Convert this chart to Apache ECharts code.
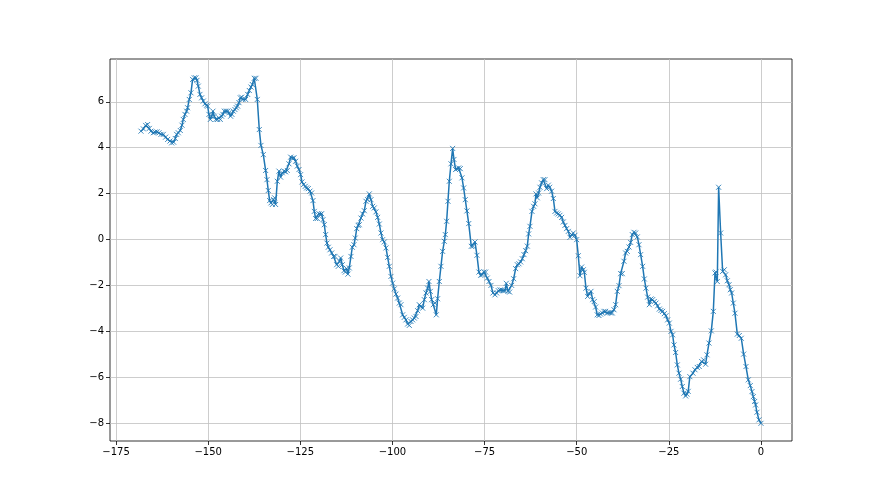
<!DOCTYPE html>
<html>
<head>
<meta charset="utf-8">
<script src="https://cdn.jsdelivr.net/npm/echarts@6/dist/echarts.min.js"></script>
<style>
html,body{margin:0;padding:0;background:#fff;}
#chart{width:880px;height:495px;}
</style>
</head>
<body>
<div id="chart"></div>
<script>
var xTicks = [-175, -150, -125, -100, -75, -50, -25, 0];
var yTicks = [-8, -6, -4, -2, 0, 2, 4, 6];

var xs = [
-168.25,-167.6,-166.98,-166.44,-165.99,-165.54,-164.9,-164.45,-163.9,-163.36,-162.82,-162.19,-161.56,-161.01,-160.38,-159.93,-159.38,-158.93,-158.57,-158.12,
-157.58,-157.12,-156.76,-156.31,-155.86,-155.59,-155.14,-154.68,-154.23,-153.78,-153.33,-153.05,-152.69,-152.24,-151.79,-151.33,-150.88,-150.43,-150.16,-149.8,
-149.43,-149.07,-148.71,-148.35,-147.9,-147.44,-147.08,-146.72,-146.36,-146.0,-145.63,-145.18,-144.73,-144.37,-143.92,-143.56,-143.19,-142.74,-142.38,-142.02,
-141.66,-141.29,-140.93,-140.57,
-139.85,-139.3,-138.85,-138.4,-138.04,-137.5,-137.04,-136.68,-136.14,-135.69,-135.05,-134.42,-134.06,-133.7,-133.33,-132.97,-132.61,-132.25,-131.98,-131.71,
-131.25,-130.8,-130.35,-129.9,-129.44,-128.99,-128.54,-128.09,-127.63,-127.18,-126.73,-126.28,-125.83,-125.37,-124.92,-124.56,-124.11,-123.66,-123.3,-122.84,
-122.39,-121.94,-121.57,-121.21,-120.85,-120.4,-119.95,-119.58,-119.22,-118.86,-118.5,-118.14,-117.77,-117.41,-116.96,-116.5,-115.96,-115.6,-115.15,-114.7,
-114.34,-114.06,-113.61,-113.16,-112.8,-112.43,-112.08,-111.72,-111.26,-110.9,-110.45,-110.09,-109.7,-109.3,
-109.0,-108.55,-108.1,-107.64,-107.19,-106.74,-106.29,-105.83,-105.38,-104.93,-104.48,-104.02,-103.57,-103.12,-102.67,-102.22,-101.76,-101.31,-100.86,-100.41,
-99.95,-99.5,-99.05,-98.6,-98.15,-97.69,-97.24,-96.79,-96.34,-95.88,-95.43,-94.98,-94.53,-94.08,-93.62,-93.17,-92.72,-92.27,-91.81,-91.36,
-90.91,-90.46,-90.1,-89.73,-89.37,-88.92,-88.47,-88.11,-87.75,-87.29,-86.84,-86.39,-85.93,-85.66,-85.3,-84.94,-84.58,-84.12,-83.67,-83.31,
-82.86,-82.5,-82.04,-81.59,-81.14,-80.69,-80.24,-79.8,-79.3,
-78.61,-78.15,-77.61,-77.07,-76.53,-76.07,-75.62,-75.17,-74.72,-74.26,-73.81,-73.27,-72.73,-72.18,-71.73,-71.28,-70.83,-70.37,-69.92,-69.47,
-69.11,-68.66,-68.2,-67.66,-67.12,-66.57,-66.12,-65.67,-65.22,-64.77,-64.31,-63.86,-63.41,-63.05,-62.69,-62.14,-61.69,-61.33,-61.06,-60.7,
-60.33,-59.97,-59.52,-59.07,-58.62,-58.16,-57.71,-57.35,-56.81,-56.35,-55.9,-55.45,-55.0,-54.55,-54.09,-53.64,-53.19,-52.74,-52.28,-51.83,
-51.38,-50.93,-50.47,
-50.02,-49.57,-49.12,-48.67,-48.21,-47.94,-47.49,-47.04,-46.59,-46.13,-45.68,-45.23,-44.87,-44.42,-43.96,-43.51,-43.06,-42.61,-42.16,-41.7,
-41.25,-40.8,-40.35,-39.89,-39.44,-38.99,-38.53,-38.08,-37.63,-37.18,-36.73,-36.27,-35.82,-35.37,-34.92,-34.46,-34.01,-33.56,-33.11,-32.65,
-32.11,-31.66,-31.21,-30.75,-30.3,-29.85,-29.4,-28.95,-28.49,-28.04,-27.59,-27.14,-26.69,-26.23,-25.78,-25.33,-24.88,-24.42,-23.97,-23.61,
-23.16,-22.71,-22.25,-21.8,-21.35,-20.9,-20.44,-20.1,-19.75,-19.3,
-18.45,-17.91,-17.28,-16.74,-16.1,-15.56,-15.02,-14.65,-14.11,-13.48,-12.93,-12.48,-12.21,-11.85,-11.49,-10.94,-10.4,-9.95,-9.59,-9.13,
-8.68,-8.32,-7.96,-7.51,-7.06,-6.42,-5.88,-5.34,-4.7,-4.07,-3.44,-2.9,-2.44,-2.08,-1.72,-1.45,-1.09,-0.54,0
];

var ys = [
4.72,4.82,4.97,5.01,4.84,4.72,4.65,4.68,4.69,4.65,4.58,4.58,4.46,4.36,4.29,4.21,4.24,4.40,4.58,4.65,
4.75,4.98,5.23,5.45,5.59,5.74,6.10,6.39,6.97,7.04,7.04,6.93,6.68,6.32,6.17,6.03,5.91,5.85,5.81,5.45,
5.23,5.37,5.59,5.37,5.23,5.23,5.30,5.23,5.37,5.45,5.59,5.59,5.59,5.52,5.37,5.45,5.59,5.66,5.74,5.81,
5.96,6.17,6.20,6.10,
6.10,6.32,6.49,6.64,6.75,7.02,7.02,6.10,4.79,4.10,3.70,3.01,2.61,2.14,1.70,1.60,1.53,1.74,1.82,1.53,
2.54,2.98,2.72,2.91,2.98,2.95,3.01,3.30,3.59,3.54,3.56,3.41,3.20,3.05,2.83,2.51,2.40,2.32,2.25,2.22,
2.11,2.03,1.70,1.23,0.92,0.92,1.13,1.09,1.13,0.87,0.65,0.22,-0.15,-0.33,-0.44,-0.58,-0.73,-0.73,-1.09,-1.16,
-0.94,-0.80,-1.09,-1.35,-1.41,-1.26,-1.50,-1.23,-0.73,-0.33,-0.22,0.07,0.48,0.62,
0.65,0.94,1.12,1.26,1.67,1.74,1.99,1.74,1.45,1.38,1.21,0.97,0.68,0.29,0.0,-0.10,-0.36,-0.77,-1.16,-1.60,
-1.89,-2.14,-2.37,-2.54,-2.76,-2.83,-3.27,-3.38,-3.49,-3.67,-3.73,-3.56,-3.49,-3.41,-3.34,-3.09,-2.83,-2.90,-2.98,-2.61,
-2.32,-2.11,-1.82,-2.25,-2.61,-2.83,-2.76,-3.27,-2.57,-1.82,-1.16,-0.51,-0.07,0.22,0.80,1.67,2.54,3.30,3.97,3.49,
3.05,3.09,3.12,3.09,2.69,2.25,1.74,1.25,0.70,
-0.29,-0.29,-0.10,-0.68,-1.41,-1.55,-1.53,-1.41,-1.41,-1.67,-1.82,-1.99,-2.32,-2.40,-2.32,-2.22,-2.19,-2.19,-2.22,-2.22,
-1.90,-2.25,-2.28,-1.99,-1.70,-1.26,-1.09,-1.05,-0.97,-0.83,-0.65,-0.48,-0.28,0.25,0.58,1.23,1.45,1.56,1.99,1.82,
2.03,2.28,2.47,2.61,2.61,2.22,2.37,2.28,2.11,1.79,1.23,1.16,1.12,1.06,0.97,0.77,0.62,0.48,0.36,0.10,
0.22,0.29,0.19,
0.0,-0.70,-1.57,-1.19,-1.31,-1.42,-2.11,-2.47,-2.35,-2.25,-2.61,-2.69,-2.93,-3.27,-3.30,-3.24,-3.19,-3.12,-3.12,-3.19,
-3.17,-3.19,-3.19,-3.05,-2.83,-2.25,-2.00,-1.48,-1.48,-0.94,-0.58,-0.51,-0.32,-0.12,0.22,0.32,0.29,0.12,-0.22,-0.65,
-1.16,-1.71,-2.11,-2.50,-2.83,-2.58,-2.61,-2.69,-2.76,-2.88,-3.02,-3.08,-3.12,-3.22,-3.31,-3.49,-3.63,-3.99,-4.14,-4.58,
-4.91,-5.45,-5.81,-6.07,-6.39,-6.68,-6.80,-6.72,-6.60,-5.96,
-5.81,-5.66,-5.56,-5.52,-5.30,-5.23,-5.42,-5.01,-4.50,-3.97,-3.12,-1.45,-1.41,-1.82,2.28,0.29,-1.38,-1.31,-1.53,-1.79,
-1.96,-2.18,-2.32,-2.76,-3.20,-4.11,-4.17,-4.29,-4.98,-5.52,-6.10,-6.35,-6.61,-6.83,-7.04,-7.19,-7.51,-7.84,-7.99
];

var seriesData = xs.map(function (x, i) { return [x, ys[i]]; });

function fmt(v) {
  return (v < 0 ? '\u2212' + Math.abs(v) : String(v));
}

var chart = echarts.init(document.getElementById('chart'), null, {renderer: 'canvas'});
chart.setOption({
  animation: false,
  backgroundColor: '#ffffff',
  grid: {
    left: 110, top: 59, width: 682, height: 382,
    show: true, borderColor: '#000000', borderWidth: 0.8, backgroundColor: 'transparent'
  },
  xAxis: {
    type: 'value',
    position: 'bottom',
    min: -176.65, max: 8.42,
    axisLine: {show: false, onZero: false},
    axisTick: {show: true, inside: false, length: 4, customValues: xTicks, lineStyle: {color: '#000', width: 0.8}},
    axisLabel: {customValues: xTicks, formatter: fmt, color: '#000', fontFamily: 'DejaVu Sans', fontSize: 10, margin: 6},
    splitLine: {show: true, customValues: xTicks, lineStyle: {color: '#c0c0c0', width: 0.8}}
  },
  yAxis: {
    type: 'value',
    position: 'left',
    min: -8.76, max: 7.86,
    axisLine: {show: false, onZero: false},
    axisTick: {show: true, inside: false, length: 4, customValues: yTicks, lineStyle: {color: '#000', width: 0.8}},
    axisLabel: {customValues: yTicks, formatter: fmt, color: '#000', fontFamily: 'DejaVu Sans', fontSize: 10, margin: 6},
    splitLine: {show: true, customValues: yTicks, lineStyle: {color: '#c0c0c0', width: 0.8}}
  },
  series: [{
    type: 'line',
    data: seriesData,
    symbol: 'path://M0,0L10,10M10,0L0,10',
    symbolSize: 5,
    showAllSymbol: true,
    lineStyle: {color: '#1f77b4', width: 1.5},
    itemStyle: {color: '#1f77b4', borderColor: '#1f77b4', borderWidth: 1, opacity: 0.85}
  }]
});
</script>
</body>
</html>
